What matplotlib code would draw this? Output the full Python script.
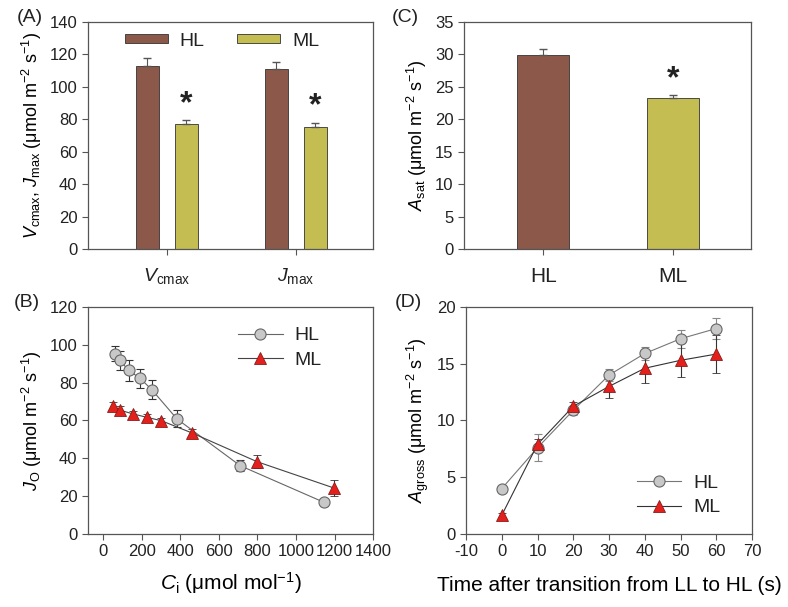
import numpy as np
import matplotlib.pyplot as plt

plt.rcParams['font.family'] = ['Liberation Sans', 'DejaVu Sans']
plt.rcParams['mathtext.fontset'] = 'custom'
plt.rcParams['mathtext.rm'] = 'Liberation Sans'
plt.rcParams['mathtext.it'] = 'Liberation Sans:italic'
plt.rcParams['mathtext.bf'] = 'Liberation Sans:bold'
plt.rcParams['axes.unicode_minus'] = False
plt.rcParams['text.color'] = '#222222'

# panel A: Vcmax / Jmax
params = [r'$V_{\rm cmax}$', r'$J_{\rm max}$']
hl_param = [113, 111]
hl_param_err = [4.5, 4.5]
ml_param = [77, 75]
ml_param_err = [2.5, 3]

# panel C: Asat
groups = ['HL', 'ML']
asat = [29.9, 23.3]
asat_err = [1.0, 0.5]

# panel B: JO vs Ci
ci_hl = [59, 85, 131, 190, 251, 382, 710, 1146]
jo_hl = [95.2, 91.8, 86.5, 82.3, 76.3, 60.8, 36.1, 16.7]
jo_hl_err = [4, 5, 5.5, 5, 5, 4.5, 3, 2]
ci_ml = [51, 87, 156, 224, 300, 460, 798, 1197]
jo_ml = [67.8, 65.4, 63.4, 61.7, 59.9, 53.4, 38.2, 24.3]
jo_ml_err = [2, 2, 1.5, 1.5, 1.5, 2, 3.5, 4]

# panel D: Agross over time
t = [0, 10, 20, 30, 40, 50, 60]
ag_hl = [4.0, 7.6, 10.9, 14.0, 15.9, 17.2, 18.1]
ag_hl_err = [0.2, 1.2, 0.4, 0.5, 0.6, 0.8, 0.9]
ag_ml = [1.65, 7.9, 11.25, 13.0, 14.6, 15.3, 15.85]
ag_ml_err = [0.2, 0.5, 0.4, 1.0, 1.3, 1.5, 1.7]

brown = '#8B5849'
olive = '#C3BD52'
spine_c = '#555555'
unit = r' (μmol m$^{-2}$ s$^{-1}$)'

fig = plt.figure(figsize=(7.88, 6.07), dpi=100)
axA = fig.add_axes([0.1117, 0.5898, 0.3617, 0.374])
axC = fig.add_axes([0.5888, 0.5898, 0.3642, 0.374])
axB = fig.add_axes([0.1117, 0.1203, 0.3617, 0.374])
axD = fig.add_axes([0.5914, 0.1203, 0.363, 0.374])

for ax in (axA, axB, axC, axD):
    for s in ax.spines.values():
        s.set_color(spine_c)
        s.set_linewidth(0.9)
    ax.tick_params(direction='out', length=4, width=0.8, color=spine_c,
                   labelsize=12, labelcolor='#222222', top=False, right=False)

# ---- A ----
x = np.arange(len(params))
w = 0.178
off = 0.151
axA.bar(x - off, hl_param, w, color=brown, edgecolor='#333333', lw=0.6, label='HL')
axA.bar(x + off, ml_param, w, color=olive, edgecolor='#333333', lw=0.6, label='ML')
axA.errorbar(x - off, hl_param, yerr=[np.zeros(2), hl_param_err], fmt='none',
             ecolor='#555555', elinewidth=0.8, capsize=3)
axA.errorbar(x + off, ml_param, yerr=[np.zeros(2), ml_param_err], fmt='none',
             ecolor='#555555', elinewidth=0.8, capsize=3)
for xi, v, e in zip(x + off, ml_param, ml_param_err):
    axA.text(xi, v + e + 0.5, '*', ha='center', va='bottom', fontsize=23, fontweight='bold')
axA.set_xlim(-0.61, 1.6)
axA.set_ylim(0, 140)
axA.set_yticks(range(0, 141, 20))
axA.set_xticks(x)
axA.set_xticklabels(params, fontsize=14)
axA.tick_params(axis='x', pad=8)
axA.set_ylabel(r'$V_{\rm cmax}$, $J_{\rm max}$' + unit, fontsize=13)
axA.legend(loc='upper center', ncol=2, frameon=False, fontsize=14,
           handlelength=2.2, handleheight=0.35, columnspacing=1.7, handletextpad=0.6,
           bbox_to_anchor=(0.47, 1.03))
axA.text(-0.25, 1.02, '(A)', transform=axA.transAxes, fontsize=14, va='center')

# ---- C ----
xc = np.arange(len(groups))
axC.bar(xc, asat, 0.4, color=[brown, olive], edgecolor='#333333', lw=0.6)
axC.errorbar(xc, asat, yerr=[np.zeros(2), asat_err], fmt='none',
             ecolor='#555555', elinewidth=0.8, capsize=3)
axC.text(1, asat[1] + asat_err[1] + 0.1, '*', ha='center', va='bottom',
         fontsize=23, fontweight='bold')
axC.set_xlim(-0.61, 1.6)
axC.set_ylim(0, 35)
axC.set_yticks(range(0, 36, 5))
axC.set_xticks(xc)
axC.set_xticklabels(groups, fontsize=15)
axC.tick_params(axis='x', pad=9)
axC.set_ylabel(r'$A_{\rm sat}$' + unit, fontsize=13)
axC.text(-0.25, 1.02, '(C)', transform=axC.transAxes, fontsize=14, va='center')

# ---- B ----
axB.errorbar(ci_hl, jo_hl, yerr=jo_hl_err, fmt='-o', color='#666666', lw=0.8,
             mfc='#C8C8C8', mec='#666666', ms=8, mew=0.8, ecolor='#333333',
             elinewidth=0.8, capsize=3, label='HL', zorder=3)
axB.errorbar(ci_ml, jo_ml, yerr=jo_ml_err, fmt='-^', color='#444444', lw=0.8,
             mfc='#E3201B', mec='#8B1A1A', ms=8.5, mew=0.6, ecolor='#333333',
             elinewidth=0.8, capsize=3, label='ML', zorder=3)
axB.set_xlim(-80, 1400)
axB.set_ylim(0, 120)
axB.set_xticks(range(0, 1401, 200))
axB.set_yticks(range(0, 121, 20))
axB.set_xlabel(r'$C_{\rm i}$ (μmol mol$^{-1}$)', fontsize=15, labelpad=8)
axB.set_ylabel(r'$J_{\rm O}$' + unit, fontsize=13)
hb, lb = axB.get_legend_handles_labels()
axB.legend([h[0] for h in hb], lb, loc='upper right', frameon=False, fontsize=14,
           handlelength=2.3, handletextpad=0.6, labelspacing=0.35,
           bbox_to_anchor=(0.88, 0.99))
axB.text(-0.26, 1.02, '(B)', transform=axB.transAxes, fontsize=14, va='center')

# ---- D ----
axD.errorbar(t, ag_hl, yerr=ag_hl_err, fmt='-o', color='#777777', lw=0.8,
             mfc='#C8C8C8', mec='#666666', ms=8, mew=0.8, ecolor='#888888',
             elinewidth=0.8, capsize=3, label='HL', zorder=3)
axD.errorbar(t, ag_ml, yerr=ag_ml_err, fmt='-^', color='#333333', lw=0.8,
             mfc='#E3201B', mec='#8B1A1A', ms=8.5, mew=0.6, ecolor='#333333',
             elinewidth=0.8, capsize=3, label='ML', zorder=3)
axD.set_xlim(-10, 70)
axD.set_ylim(0, 20)
axD.set_xticks(range(-10, 71, 10))
axD.set_yticks(range(0, 21, 5))
axD.set_xlabel('Time after transition from LL to HL (s)', fontsize=15, labelpad=12)
axD.set_ylabel(r'$A_{\rm gross}$' + unit, fontsize=13)
hd, ld = axD.get_legend_handles_labels()
axD.legend([h[0] for h in hd], ld, loc='lower right', frameon=False, fontsize=14,
           handlelength=2.3, handletextpad=0.6, labelspacing=0.35,
           bbox_to_anchor=(0.95, 0.0))
axD.text(-0.25, 1.02, '(D)', transform=axD.transAxes, fontsize=14, va='center')

fig.savefig('out.png', dpi=100, facecolor='white')
